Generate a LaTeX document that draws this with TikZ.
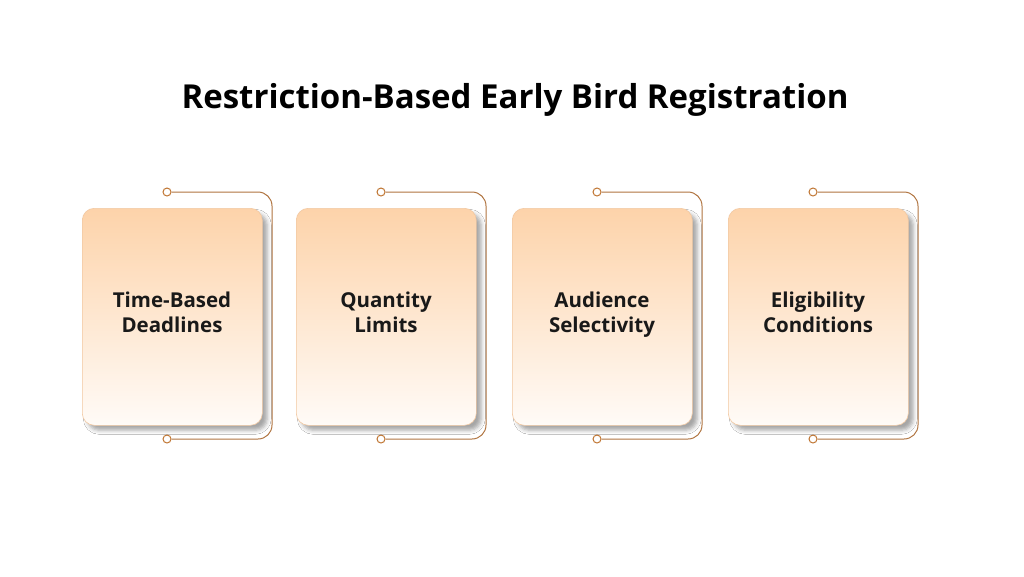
\documentclass[tikz,border=0pt]{standalone}
\usepackage{fontspec}
\setmainfont{Open Sans}
\usetikzlibrary{shadows,shadows.blur}
\definecolor{topc}{HTML}{FDD3AA}
\definecolor{botc}{HTML}{FFFBF7}
\definecolor{linec}{HTML}{B07440}
\definecolor{edgec}{HTML}{F2C9A3}
\begin{document}
\begin{tikzpicture}[x=1pt,y=-1pt,
  card/.style={rounded corners=12pt,top color=topc,bottom color=botc,draw=edgec,line width=0.6pt,
    blur shadow={shadow xshift=5pt,shadow yshift=-5pt,shadow blur radius=4pt,shadow opacity=35},
    minimum width=180pt,minimum height=217pt,anchor=north west,inner sep=0pt},
  lbl/.style={font=\bfseries\fontsize{20.5}{25}\selectfont,align=center,text=black!90},
  brk/.style={draw=linec,line width=1pt},
  dot/.style={circle,draw=linec!80!orange,fill=white,line width=1pt,minimum size=8pt,inner sep=0pt}]
\fill[white] (0,0) rectangle (1024,576);
\node[font=\bfseries\fontsize{33}{40}\selectfont] (title) at (515,100) {Restriction-Based Early Bird Registration};
\foreach \x/\t [count=\i] in {82/{Time-Based\\Deadlines},296/{Quantity\\Limits},512/{Audience\\Selectivity},728/{Eligibility\\Conditions}}{
  \node[dot] (a\i) at (\x+85,192) {};
  \node[dot] (b\i) at (\x+85,439) {};
  \draw[brk,rounded corners=14pt] (a\i.east) -| (\x+190,439) -- (b\i.east);
  \node[card] (c\i) at (\x,208) {};
  \node[lbl,anchor=base] (t\i) at (\x+90,332) {\t};
}
\end{tikzpicture}
\end{document}
